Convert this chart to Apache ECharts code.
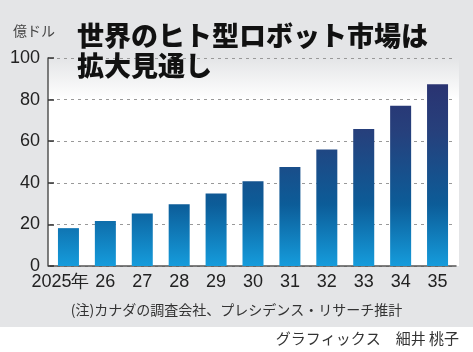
<!DOCTYPE html>
<html>
<head>
<meta charset="utf-8">
<script src="https://cdn.jsdelivr.net/npm/echarts@6/dist/echarts.min.js"></script>
<style>
  html, body { margin: 0; padding: 0; background: #fff; }
  #chart { width: 473px; height: 352px; }
</style>
</head>
<body>
<div id="chart"></div>
<script>
// 世界のヒト型ロボット市場（億ドル）
var years = ['2025年', '26', '27', '28', '29', '30', '31', '32', '33', '34', '35'];
var marketSize = [18.2, 21.6, 25.2, 29.7, 34.9, 40.8, 47.6, 56.0, 65.9, 77.1, 87.4];
var yTicks = [0, 20, 40, 60, 80, 100];

var titleText = '世界のヒト型ロボット市場は\n拡大見通し';
var unitText = '億ドル';
var noteText = '(注)カナダの調査会社、プレシデンス・リサーチ推計';
var creditText = 'グラフィックス　細井 桃子';

var numFont = '"Liberation Sans", Arial, sans-serif';
var jpFont = '"Noto Sans CJK JP", sans-serif';

var chart = echarts.init(document.getElementById('chart'));

var barGradient = new echarts.graphic.LinearGradient(0, 60, 0, 266, [
    {offset: 0, color: '#2c2d6c'},
    {offset: 0.35, color: '#26407c'},
    {offset: 0.7, color: '#0c5c98'},
    {offset: 1, color: '#159cdc'}
], true);

// 先頭の「2025年」だけ少し左へ寄せる
var xData = years.map(function (y, i) {
    if (i === 0) {
        return {value: y, textStyle: {padding: [0, 16, 0, 0]}};
    }
    return y;
});

var option = {
    animation: false,
    backgroundColor: '#fff',
    title: {
        text: titleText,
        left: 72,
        top: 16,
        textStyle: {
            fontFamily: jpFont,
            fontSize: 27,
            fontWeight: 900,
            lineHeight: 30,
            color: '#111'
        }
    },
    graphic: [
        {
            type: 'rect',
            z: -10,
            shape: {x: 0, y: 0, width: 473, height: 327},
            style: {fill: '#e4e5e7'}
        },
        {
            type: 'rect',
            z: -9,
            shape: {x: 48, y: 58, width: 411, height: 208},
            style: {
                fill: new echarts.graphic.LinearGradient(0, 0, 0, 1, [
                    {offset: 0, color: '#e4e5e7'},
                    {offset: 0.2, color: '#ffffff'},
                    {offset: 1, color: '#ffffff'}
                ])
            }
        },
        {
            type: 'text',
            left: 13,
            top: 24,
            style: {text: unitText, font: '14px ' + jpFont, fill: '#444'}
        },
        {
            type: 'text',
            left: 'center',
            top: 303,
            style: {text: noteText, font: '14px ' + jpFont, fill: '#333'}
        },
        {
            type: 'text',
            right: 14,
            top: 331,
            style: {text: creditText, font: '15px ' + jpFont, fill: '#333'}
        }
    ],
    grid: {
        left: 50,
        right: 17,
        top: 58,
        bottom: 86
    },
    xAxis: {
        type: 'category',
        data: xData,
        axisLine: {lineStyle: {color: '#555', width: 1.5}},
        axisTick: {show: false},
        axisLabel: {
            margin: 7,
            interval: 0,
            fontFamily: numFont,
            fontSize: 18,
            color: '#222'
        }
    },
    yAxis: {
        type: 'value',
        min: 0,
        max: 100,
        interval: 20,
        offset: 2,
        axisLine: {show: true, lineStyle: {color: '#555', width: 1.5}},
        axisTick: {show: true, inside: true, length: 6, lineStyle: {color: '#333', width: 1.5}},
        axisLabel: {
            margin: 8,
            fontFamily: numFont,
            fontSize: 18,
            color: '#222',
            formatter: function (v) {
                return yTicks.indexOf(v) >= 0 ? String(v) : '';
            }
        },
        splitLine: {
            show: true,
            lineStyle: {color: '#999', type: [3, 4], width: 1}
        }
    },
    series: [
        {
            type: 'bar',
            data: marketSize,
            barWidth: 21,
            itemStyle: {
                color: barGradient
            }
        }
    ]
};

chart.setOption(option);
</script>
</body>
</html>
